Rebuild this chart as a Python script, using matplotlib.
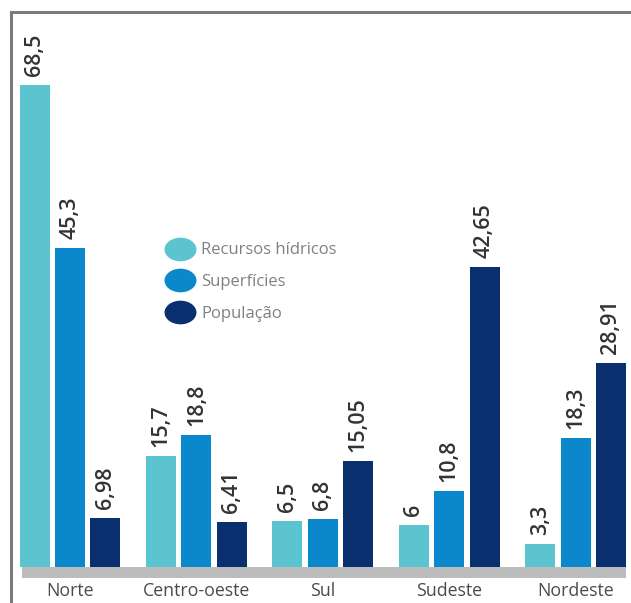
import matplotlib
matplotlib.use('Agg')
import matplotlib.pyplot as plt
from matplotlib.lines import Line2D
from matplotlib.path import Path
import numpy as np

plt.rcParams['font.family'] = ['Open Sans', 'DejaVu Sans']

# Données
regioes = ['Norte', 'Centro-oeste', 'Sul', 'Sudeste', 'Nordeste']
recursos = [68.5, 15.7, 6.5, 6, 3.3]
superficies = [45.3, 18.8, 6.8, 10.8, 18.3]
populacao = [6.98, 6.41, 15.05, 42.65, 28.91]
rotulos_rec = ['68,5', '15,7', '6,5', '6', '3,3']
rotulos_sup = ['45,3', '18,8', '6,8', '10,8', '18,3']
rotulos_pop = ['6,98', '6,41', '15,05', '42,65', '28,91']
series = ['Recursos hídricos', 'Superfícies', 'População']
cores = ['#5cc4cf', '#0b87cb', '#0a2f6e']

W, H = 631, 603
fig = plt.figure(figsize=(W / 100, H / 100), dpi=100)
# axes en pixels : de x=11 à 631, de y=12 à 603
ax = fig.add_axes([11 / W, 0, 1 - 11 / W, 1 - 12 / H])

px_x = 126.4   # pixels par groupe
px_y = 7.04    # pixels par unité
x0 = 70        # centre du premier groupe
base = 567     # ligne de base
ax.set_xlim(-(x0 - 11) / px_x, (W - x0) / px_x)
ax.set_ylim(-(H - base) / px_y, (base - 12) / px_y)

x = np.arange(len(regioes))
larg = 0.237
dec = 0.28
valeurs = [recursos, superficies, populacao]
rotulos = [rotulos_rec, rotulos_sup, rotulos_pop]
for k in range(3):
    xs = x + (k - 1) * dec
    ax.bar(xs, valeurs[k], width=larg, color=cores[k], zorder=3)
    for xi, v, t in zip(xs, valeurs[k], rotulos[k]):
        ax.annotate(t, (xi, v), xytext=(0, 6.5), textcoords='offset points',
                    rotation=90, ha='center', va='bottom', fontsize=15.5,
                    fontweight='semibold', color='#333333')

# bande grise sous les barres
ax.fill_between([(22 - x0) / px_x, (626 - x0) / px_x], -11 / px_y, 0,
                color='#bcbcbc', lw=0, zorder=2)

for xi, nom in zip(x, regioes):
    ax.text(xi, -24 / px_y, nom, ha='center', va='center', fontsize=12.8,
            color='#4a4a4a')

ax.set_xticks([])
ax.set_yticks([])
for s in ['right', 'bottom']:
    ax.spines[s].set_visible(False)
for s in ['left', 'top']:
    ax.spines[s].set_color('#7a7a7a')
    ax.spines[s].set_linewidth(2.2)

# marqueur ovale pour la légende
cercle = Path.unit_circle()
ovale = Path(cercle.vertices * np.array([1.35, 1.0]), cercle.codes)
poignees = [Line2D([], [], marker=ovale, ls='', markersize=23, color=c,
                   markeredgewidth=0) for c in cores]
leg = ax.legend(poignees, series, loc='upper left',
                bbox_to_anchor=(157 / W, 1 - 234 / H),
                bbox_transform=fig.transFigure, frameon=False,
                fontsize=12, labelcolor='#808080', handletextpad=0.45,
                labelspacing=0.95, borderpad=0, handlelength=1.7)

fig.savefig('out.png', dpi=100)
